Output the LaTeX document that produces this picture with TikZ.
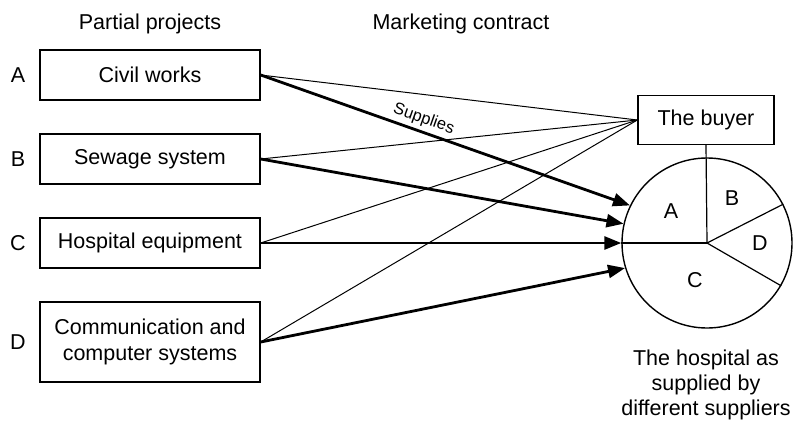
\documentclass[tikz,border=0pt]{standalone}
\usepackage{fontspec}
\setmainfont{Liberation Sans}
\usetikzlibrary{arrows.meta,calc}
\begin{document}
\begin{tikzpicture}[x=1pt,y=-1pt,
  every node/.style={font=\fontsize{21.5}{26}\selectfont},
  proj/.style={draw,line width=1.4pt,minimum width=220pt,minimum height=50pt,inner sep=2pt,align=center},
  thin/.style={line width=1pt},
  thick/.style={line width=2.8pt,-{Triangle[length=17pt,width=13pt]}}]
\useasboundingbox (0,0) rectangle (797,426);
\node (hp) at (150,24) {Partial projects};
\node (hm) at (461,24) {Marketing contract};
\node[proj] (A) at (150,75) {Civil works};
\node[proj] (B) at (150,159) {Sewage system};
\node[proj] (C) at (150,243) {Hospital equipment};
\node[proj,minimum height=80pt] (D) at (150,342) {Communication and\\computer systems};
\node (la) at (18,75) {A};
\node (lb) at (18,159) {B};
\node (lc) at (18,243) {C};
\node (ld) at (18,342) {D};
\node[draw,line width=1.4pt,minimum width=136pt,minimum height=49pt,inner sep=2pt] (buy) at (706,120) {The buyer};
\node[draw,circle,line width=1.4pt,minimum size=170pt,inner sep=0pt] (circ) at (707,243) {};
\draw[line width=1.2pt] (buy.south) -- (circ.center);
\draw[line width=1.2pt] (circ.center) -- (circ.west);
\draw[line width=1.2pt] (circ.center) -- (circ.27);
\draw[line width=1.2pt] (circ.center) -- (circ.-30);
\node (pa) at (671,211) {A};
\node (pb) at (732,198) {B};
\node (pd) at (760,243) {D};
\node (pc) at (695,280) {C};
\draw[thin] (A.east) -- (buy.west);
\draw[thin] (B.east) -- (buy.west);
\draw[thin] (C.east) -- (buy.west);
\draw[thin] (D.east) -- (buy.west);
\draw[thick] (A.east) -- node[pos=0.43,sloped,above=2.5pt,inner sep=1pt,font=\fontsize{16.5}{19}\selectfont] (sup) {Supplies} (circ.154);
\draw[thick] (B.east) -- (circ.167);
\draw[thick] (C.east) -- (circ.180);
\draw[thick] (D.east) -- (circ.197);
\node[align=center,font=\fontsize{21.5}{25}\selectfont] (cap) at (706,385) {The hospital as\\supplied by\\different suppliers};
\end{tikzpicture}
\end{document}
